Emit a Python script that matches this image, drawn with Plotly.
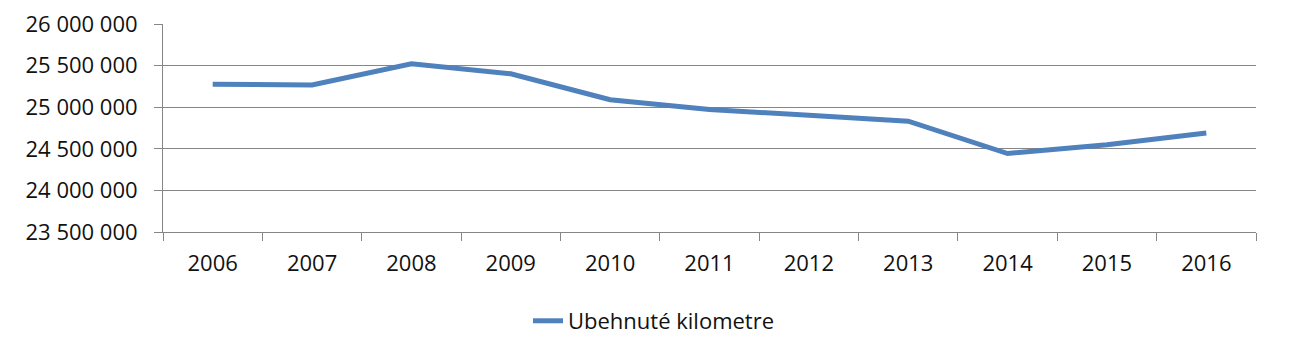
import plotly.graph_objects as go

years = ["2006", "2007", "2008", "2009", "2010", "2011", "2012", "2013", "2014", "2015", "2016"]
km = [25275000, 25268000, 25521000, 25402000, 25090000, 24971000, 24903000, 24832000, 24443000, 24550000, 24689000]
series_name = "Ubehnuté kilometre"
y_ticks = [23500000, 24000000, 24500000, 25000000, 25500000, 26000000]

fig = go.Figure()
fig.add_trace(go.Scatter(
    x=years, y=km, mode="lines", name=series_name,
    line=dict(color="#4F81BD", width=5),
))

fig.update_layout(
    width=1291, height=345,
    margin=dict(l=155, r=43, t=16, b=121),
    paper_bgcolor="white", plot_bgcolor="white",
    font=dict(family="Open Sans", size=22, color="#111111"),
    separators=", ",
    showlegend=True,
    legend=dict(orientation="h", xref="container", yref="container",
                x=0.4028, xanchor="left", y=0.0928, yanchor="middle",
                font=dict(size=22), bgcolor="rgba(0,0,0,0)"),
)
fig.update_xaxes(
    type="category", range=[-0.5, 10.5], showgrid=False,
    showline=True, linecolor="#868686", linewidth=1,
    ticks="outside", tickson="boundaries", ticklen=8, tickcolor="#868686",
    ticklabelstandoff=12, automargin=False,
)
fig.update_yaxes(
    range=[23500000, 26000000], tickvals=y_ticks, tickformat=",d",
    showgrid=True, gridcolor="#868686", gridwidth=1,
    showline=True, linecolor="#868686", linewidth=1,
    ticks="outside", ticklen=8, tickcolor="#868686",
    ticklabelstandoff=12, zeroline=False, automargin=False,
    ticklabeloverflow="allow",
)

fig.write_html("out.html")
